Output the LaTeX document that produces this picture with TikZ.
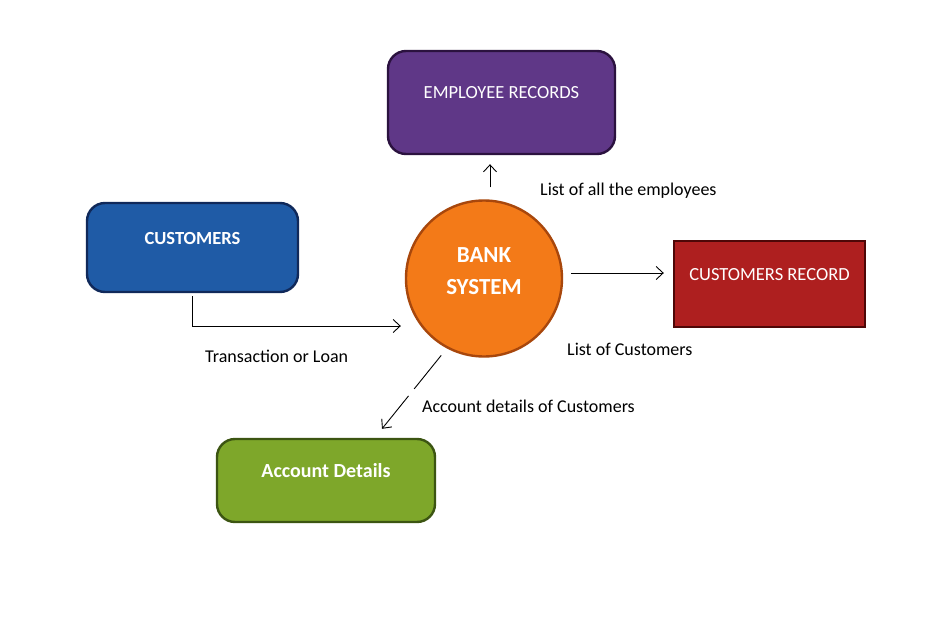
\documentclass[tikz,border=0pt]{standalone}
\usepackage{fontspec}
\setmainfont{Carlito}
\usetikzlibrary{arrows.meta,calc}
\definecolor{empfill}{HTML}{5F3787}
\definecolor{empdraw}{HTML}{2B123F}
\definecolor{custfill}{HTML}{1F5BA6}
\definecolor{custdraw}{HTML}{10295A}
\definecolor{bankfill}{HTML}{F37A18}
\definecolor{bankdraw}{HTML}{A8470C}
\definecolor{recfill}{HTML}{AE1F1F}
\definecolor{recdraw}{HTML}{4E0707}
\definecolor{accfill}{HTML}{7EA72A}
\definecolor{accdraw}{HTML}{3C5512}
\tikzset{
  box/.style={line width=2.4pt, inner sep=0pt},
  rbox/.style={box, rounded corners=18pt},
  boxtext/.style={text=white, font=\fontsize{18.5}{22}\selectfont},
  boldtext/.style={text=white, font=\bfseries\fontsize{18.5}{22}\selectfont},
  arr/.style={-{Straight Barb[length=7pt,width=13pt]}, line width=0.9pt, black},
  lbl/.style={anchor=west, inner sep=0pt, font=\fontsize{18}{21}\selectfont}
}
\begin{document}
\begin{tikzpicture}[x=1pt,y=-1pt]
\useasboundingbox[fill=white] (0,0) rectangle (940,637);
% boxes
\node[rbox, fill=empfill, draw=empdraw, minimum width=227pt, minimum height=103pt,
  label={[boxtext, yshift=9.5pt]center:EMPLOYEE RECORDS}] (emp) at (501.5,102.5) {};
\node[rbox, fill=custfill, draw=custdraw, minimum width=211pt, minimum height=89pt,
  label={[boldtext, yshift=9.5pt]center:CUSTOMERS}] (cust) at (192.5,247.5) {};
\node[circle, line width=2.4pt, fill=bankfill, draw=bankdraw, minimum size=156pt, inner sep=0pt] (bank) at (484,278.5) {};
\node[align=center, text=white, font=\bfseries\fontsize{23}{32}\selectfont, inner sep=0pt] (banktext) at ($(bank.center)+(0,-7.5)$) {BANK\\SYSTEM};
\node[box, fill=recfill, draw=recdraw, minimum width=191pt, minimum height=86pt,
  label={[boxtext, yshift=9pt]center:CUSTOMERS RECORD}] (crec) at (769.5,284) {};
\node[rbox, fill=accfill, draw=accdraw, minimum width=218pt, minimum height=83pt,
  label={[boldtext, font=\bfseries\fontsize{20}{24}\selectfont, yshift=10pt]center:Account Details}] (acc) at (326,480.5) {};
% connectors
\draw[arr, shorten <=12pt, shorten >=9pt] (bank.north -| 490,0) -- (emp.south -| 490,0);
\draw[arr, shorten <=8pt, shorten >=9pt] (bank.east |- 0,273) -- (crec.west |- 0,273);
\draw[arr, shorten <=3pt, shorten >=4pt] (cust.south) |- (bank.west |- 0,326);
\coordinate (accin) at ($(acc.north)+(56,-9)$);
\draw[arr, shorten <=9pt, dash pattern=on 43pt off 9pt on 80pt] (bank.-118) -- (accin);
% labels
\node[lbl] (l1) at (540,190.5) {List of all the employees};
\node[lbl] (l2) at (567,349) {List of Customers};
\node[lbl] (l3) at (205,356) {Transaction or Loan};
\node[lbl] (l4) at (422,406) {Account details of Customers};
\end{tikzpicture}
\end{document}
